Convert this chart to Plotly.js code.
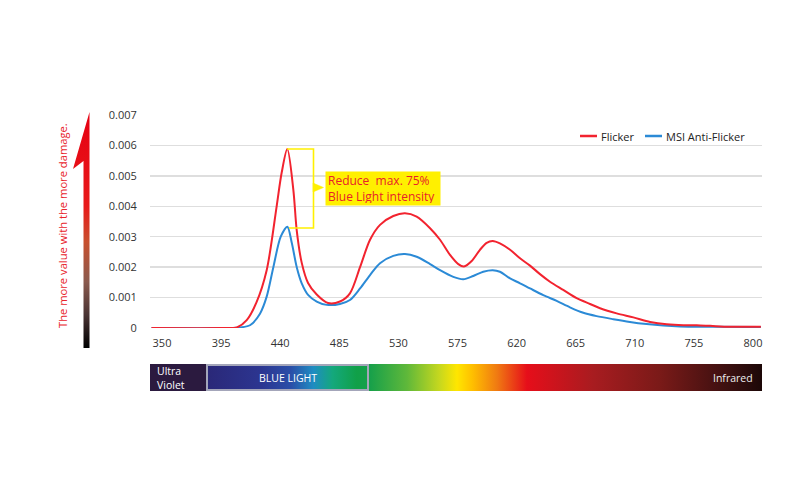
<!DOCTYPE html>
<html>
<head>
<meta charset="utf-8">
<script src="https://cdn.plot.ly/plotly-3.0.1.min.js"></script>
<style>html,body{margin:0;padding:0;background:#fff;}#chart{width:800px;height:480px;}</style>
</head>
<body>
<div id="chart"></div>
<script>
// ---- data (wavelength in nm, intensity) ----
const flickerX = [342, 395, 407, 414.5, 422, 429.7, 437.3, 441.1, 445.4, 450, 452.6, 456.4, 461.2, 467.8, 476.4, 485.5, 493.1, 500.8, 508.4, 516, 526.1, 535, 543.9, 554.1, 561.7, 569.3, 575.6, 579.9, 585.8, 592.1, 597.2, 601.8, 607.3, 615, 622.6, 630.2, 637.8, 645.4, 655.5, 665.7, 675.9, 683.5, 696.2, 708.9, 721.6, 734.3, 747, 757.1, 767.3, 782.5, 806];
const flickerY = [0, 0, 0.00002, 0.00026, 0.00085, 0.0019, 0.0040, 0.0051, 0.00588, 0.00454, 0.0032, 0.00214, 0.00148, 0.0011, 0.00082, 0.00087, 0.00114, 0.002, 0.0029, 0.00339, 0.00368, 0.00377, 0.00366, 0.00328, 0.0029, 0.0024, 0.0021, 0.00202, 0.0022, 0.00257, 0.0028, 0.00286, 0.00278, 0.00257, 0.00229, 0.00205, 0.00177, 0.00152, 0.00125, 0.00098, 0.00079, 0.00065, 0.00048, 0.00035, 0.0002, 0.00012, 0.00009, 0.00009, 0.00007, 0.00004, 0.00004];
const antiX = [342, 398, 409.4, 417, 424.6, 429.7, 434.7, 440.4, 445.4, 448.8, 452.6, 456.4, 461.4, 467.8, 475.4, 485.5, 493.1, 500.8, 508.4, 516, 526.1, 535, 543.9, 554.1, 561.7, 571.8, 579.4, 587, 594.6, 601.8, 607.3, 615, 622.6, 630.2, 640.3, 650.5, 660.6, 670.8, 680.9, 693.6, 706.3, 719, 731.7, 744.4, 769.7, 806];
const antiY = [0, 0, 0.00002, 0.00009, 0.00047, 0.00103, 0.00198, 0.0030, 0.00333, 0.0028, 0.0020, 0.00147, 0.00108, 0.00087, 0.00076, 0.00079, 0.00092, 0.0013, 0.00174, 0.00213, 0.00237, 0.00243, 0.00234, 0.0021, 0.0019, 0.00168, 0.0016, 0.00171, 0.00185, 0.0019, 0.00185, 0.00163, 0.00147, 0.0013, 0.00108, 0.00089, 0.00068, 0.0005, 0.00039, 0.00029, 0.0002, 0.00013, 0.00008, 0.00005, 0.00004, 0.00003];
const seriesNames = ["Flicker", "MSI Anti-Flicker"];
const xTickVals = [350, 395, 440, 485, 530, 575, 620, 665, 710, 755, 800];
const yTickVals = [0, 0.001, 0.002, 0.003, 0.004, 0.005, 0.006, 0.007];
const yTickText = ["0", "0.001", "0.002", "0.003", "0.004", "0.005", "0.006", "0.007"];
const calloutText = ["Reduce  max. 75%", "Blue Light intensity"];
const sideText = "The more value with the more damage.";
const bandLabels = ["Ultra<br>Violet", "BLUE LIGHT", "Infrared"];

// ---- layout helpers (pixel -> paper) ----
const L = 150, R = 762, T = 115, B = 328, W = R - L, H = B - T;
const px = x => (x - L) / W;
const py = y => (B - y) / H;
const RED = '#f2232f', BLUE = '#2b8ad6', YEL = '#fff000';
const FONT = '"Open Sans", "Liberation Sans", sans-serif';

function svgURI(s) { return 'data:image/svg+xml;charset=utf-8,' + encodeURIComponent(s); }

const bandSVG = `<svg xmlns="http://www.w3.org/2000/svg" width="612" height="27" viewBox="150 364 612 27" preserveAspectRatio="none">
<defs>
<linearGradient id="sp" gradientUnits="userSpaceOnUse" x1="150" y1="0" x2="762" y2="0">
<stop offset="${(370-150)/612}" stop-color="#17a04a"/>
<stop offset="${(407-150)/612}" stop-color="#5fb83a"/>
<stop offset="${(440-150)/612}" stop-color="#c8d81e"/>
<stop offset="${(457-150)/612}" stop-color="#ffe600"/>
<stop offset="${(472-150)/612}" stop-color="#ffc000"/>
<stop offset="${(497-150)/612}" stop-color="#f07a12"/>
<stop offset="${(527-150)/612}" stop-color="#e60e1a"/>
<stop offset="${(593-150)/612}" stop-color="#a81c20"/>
<stop offset="${(660-150)/612}" stop-color="#7a1a18"/>
<stop offset="${(727-150)/612}" stop-color="#3c1010"/>
<stop offset="1" stop-color="#1c0707"/>
</linearGradient>
<linearGradient id="bl" gradientUnits="userSpaceOnUse" x1="207" y1="0" x2="368" y2="0">
<stop offset="0" stop-color="#2a2878"/>
<stop offset="0.33" stop-color="#2c3590"/>
<stop offset="0.52" stop-color="#2a4ea8"/>
<stop offset="0.66" stop-color="#1f8cc2"/>
<stop offset="0.78" stop-color="#14a87c"/>
<stop offset="0.93" stop-color="#10a048"/>
<stop offset="1" stop-color="#14a04a"/>
</linearGradient>
</defs>
<rect x="150" y="364" width="612" height="27" fill="url(#sp)"/>
<rect x="150" y="364" width="56" height="27" fill="#2b1a3f"/>
<rect x="207" y="365" width="161" height="25" fill="url(#bl)" stroke="#a4a6ba" stroke-width="2"/>
</svg>`;

const arrowSVG = `<svg xmlns="http://www.w3.org/2000/svg" width="22" height="240" viewBox="70 110 22 240" preserveAspectRatio="none">
<defs>
<linearGradient id="ag" gradientUnits="userSpaceOnUse" x1="0" y1="112" x2="0" y2="348">
<stop offset="0" stop-color="#e60012"/>
<stop offset="0.40" stop-color="#e81a1a"/>
<stop offset="0.55" stop-color="#c8502e"/>
<stop offset="0.72" stop-color="#8a5a4e"/>
<stop offset="0.86" stop-color="#4a3434"/>
<stop offset="1" stop-color="#000000"/>
</linearGradient>
</defs>
<polygon points="89.5,112 89.5,348 83.5,348 83.5,161 73,169" fill="url(#ag)"/>
</svg>`;

const traces = [
  {x: antiX, y: antiY, name: seriesNames[1], type: 'scatter', mode: 'lines',
   line: {color: BLUE, width: 2, shape: 'spline', smoothing: 0.85}, hoverinfo: 'x+y'},
  {x: flickerX, y: flickerY, name: seriesNames[0], type: 'scatter', mode: 'lines',
   line: {color: RED, width: 2, shape: 'spline', smoothing: 0.85}, hoverinfo: 'x+y'}
];

const shapes = [
  // legend samples
  {type: 'line', xref: 'paper', yref: 'paper', x0: px(580), x1: px(597), y0: py(136), y1: py(136), line: {color: RED, width: 2.5}},
  {type: 'line', xref: 'paper', yref: 'paper', x0: px(645), x1: px(662), y0: py(136), y1: py(136), line: {color: BLUE, width: 2.5}},
  // yellow bracket
  {type: 'path', xref: 'paper', yref: 'paper',
   path: `M ${px(287)} ${py(149)} L ${px(313.5)} ${py(149)} L ${px(313.5)} ${py(228)} L ${px(289)} ${py(228)}`,
   line: {color: YEL, width: 1.6}},
  {type: 'path', xref: 'paper', yref: 'paper',
   path: `M ${px(313)} ${py(183)} L ${px(323.5)} ${py(187.5)} L ${px(313)} ${py(192)} Z`,
   fillcolor: YEL, line: {color: YEL, width: 0.5}}
];

const annotations = [
  {xref: 'paper', yref: 'paper', x: px(599), y: py(136), xanchor: 'left', yanchor: 'middle', showarrow: false,
   text: seriesNames[0], font: {family: FONT, size: 11, color: '#222'}},
  {xref: 'paper', yref: 'paper', x: px(664), y: py(136), xanchor: 'left', yanchor: 'middle', showarrow: false,
   text: seriesNames[1], font: {family: FONT, size: 11, color: '#222'}},
  {xref: 'paper', yref: 'paper', x: px(382.5), y: py(188.3), xanchor: 'center', yanchor: 'middle', showarrow: false,
   text: calloutText.join('<br>'), align: 'left', bgcolor: YEL, width: 110, height: 29, borderpad: 2,
   font: {family: FONT, size: 12, color: '#e8202a'}},
  {xref: 'paper', yref: 'paper', x: px(62), y: py(226), xanchor: 'center', yanchor: 'middle', showarrow: false,
   textangle: -90, text: sideText, font: {family: FONT, size: 11.2, color: '#e8232b'}},
  {xref: 'paper', yref: 'paper', x: px(155), y: py(377.5), xanchor: 'left', yanchor: 'middle', showarrow: false,
   text: bandLabels[0], align: 'left', font: {family: FONT, size: 10.5, color: '#ffffff'}},
  {xref: 'paper', yref: 'paper', x: px(288), y: py(377.5), xanchor: 'center', yanchor: 'middle', showarrow: false,
   text: bandLabels[1], font: {family: FONT, size: 10.5, color: '#ffffff'}},
  {xref: 'paper', yref: 'paper', x: px(755), y: py(378), xanchor: 'right', yanchor: 'middle', showarrow: false,
   text: bandLabels[2], font: {family: FONT, size: 10.5, color: '#eeeeee'}}
];

const layout = {
  width: 800, height: 480,
  margin: {l: L, r: 800 - R, t: T, b: 480 - B, pad: 0},
  paper_bgcolor: '#ffffff', plot_bgcolor: '#ffffff',
  showlegend: false,
  font: {family: FONT, size: 11, color: '#333'},
  xaxis: {range: [340.86, 806.85], tickvals: xTickVals, ticktext: xTickVals.map(String),
          showgrid: false, zeroline: false, showline: false,
          ticks: 'outside', ticklen: 5, tickcolor: 'rgba(0,0,0,0)',
          tickfont: {family: FONT, size: 11, color: '#333'}, fixedrange: true},
  yaxis: {range: [0, 0.007], tickvals: yTickVals, ticktext: yTickText,
          showgrid: true, gridcolor: '#dedede', gridwidth: 1.5, zeroline: false, showline: false,
          ticks: 'outside', ticklen: 10, tickcolor: 'rgba(0,0,0,0)',
          tickfont: {family: FONT, size: 11, color: '#333'}, fixedrange: true},
  shapes: shapes,
  annotations: annotations,
  images: [
    {source: svgURI(bandSVG), xref: 'paper', yref: 'paper', x: px(150), y: py(364),
     sizex: 612 / W, sizey: 27 / H, xanchor: 'left', yanchor: 'top', sizing: 'stretch', layer: 'above'},
    {source: svgURI(arrowSVG), xref: 'paper', yref: 'paper', x: px(70), y: py(110),
     sizex: 22 / W, sizey: 240 / H, xanchor: 'left', yanchor: 'top', sizing: 'stretch', layer: 'above'}
  ]
};

Plotly.newPlot('chart', traces, layout, {displayModeBar: false, staticPlot: true});
</script>
</body>
</html>
